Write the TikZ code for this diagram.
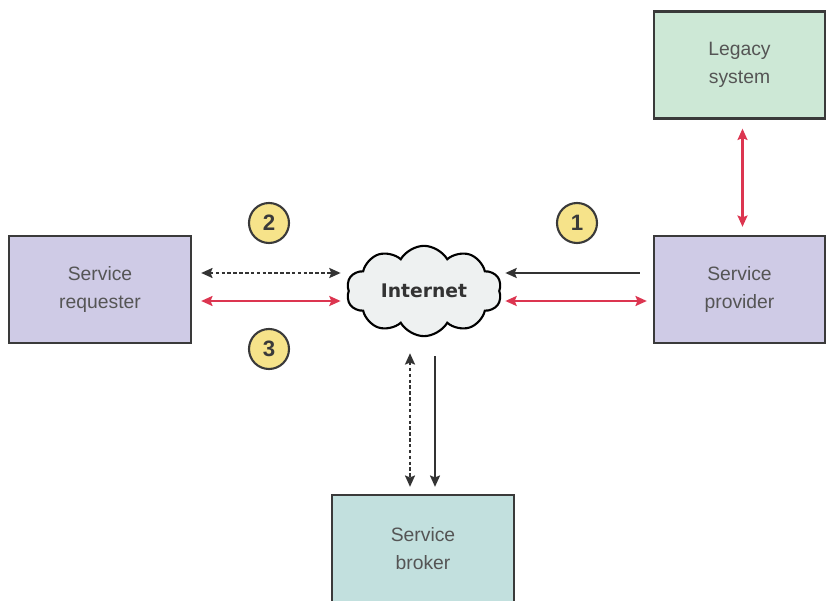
\documentclass[tikz,border=0pt]{standalone}
\usepackage{fontspec}
\setmainfont{Liberation Sans}
\newfontfamily\netfont{DejaVu Sans}
\usetikzlibrary{arrows.meta,positioning,shapes.symbols,calc}

\definecolor{boxline}{HTML}{3A3A3A}
\definecolor{labelgray}{HTML}{555555}
\definecolor{lavender}{HTML}{CFCBE6}
\definecolor{mint}{HTML}{CDE8D6}
\definecolor{teal}{HTML}{C2E0DE}
\definecolor{cloudfill}{HTML}{EEF1F1}
\definecolor{badge}{HTML}{F6E38A}
\definecolor{linkred}{HTML}{DC3550}
\definecolor{linkblack}{HTML}{333333}

\begin{document}
\begin{tikzpicture}[
    x=0.03cm, y=-0.03cm,
    sysbox/.style={rectangle,draw=boxline,line width=2pt,align=center,text=labelgray,
        font=\fontsize{16.5}{24}\selectfont,minimum height=3.21cm},
    badgenode/.style={circle,draw=boxline,fill=badge,line width=1.8pt,minimum size=1.2cm,
        inner sep=0pt,text=boxline,font=\fontsize{19}{19}\selectfont\bfseries},
    arr/.style={-{Stealth[length=3.4mm,width=3mm,inset=0.6mm]},line width=1.8pt},
    darr/.style={{Stealth[length=3.4mm,width=3mm,inset=0.6mm]}-{Stealth[length=3.4mm,width=3mm,inset=0.6mm]},line width=1.8pt},
    dotted line/.style={dash pattern=on 3pt off 2pt}
]
\useasboundingbox (0,0) rectangle (826,601);

% systems
\node[sysbox,fill=lavender,minimum width=5.46cm] (req) at (100,289.5) {Service\\requester};
\node[sysbox,fill=lavender,minimum width=5.13cm] (prov) at (739.5,289.5) {Service\\provider};
\node[sysbox,fill=mint,minimum width=5.13cm] (legacy) at (739.5,65) {Legacy\\system};
\node[sysbox,fill=teal,minimum width=5.46cm] (broker) at (423,548.5) {Service\\broker};

% internet
\node[cloud,cloud puffs=10,cloud puff arc=120,aspect=1.9,draw=black,fill=cloudfill,line width=1.8pt,
    minimum width=4.65cm,minimum height=2.5cm,text=linkblack,
    font=\netfont\fontsize{16}{16}\selectfont\bfseries] (net) at (424,291) {Internet};

% steps
\node[badgenode] (c1) at (577,223) {1};
\node[badgenode] (c2) at (269,223) {2};
\node[badgenode] (c3) at (269,349) {3};

% connectors
\draw[darr,linkblack,dotted line] ($(req.east)+(9,-16.5)$) -- ($(net.west |- req.east)+(-7,-16.5)$);
\draw[darr,linkred] ($(req.east)+(9,11.5)$) -- ($(net.west |- req.east)+(-7,11.5)$);
\draw[arr,linkblack] ($(prov.west)+(-13,-16.5)$) -- ($(net.east |- prov.west)+(5,-16.5)$);
\draw[darr,linkred] ($(net.east |- prov.west)+(5,11.5)$) -- ($(prov.west)+(-6,11.5)$);
\draw[darr,linkred] ($(legacy.south)+(3,9)$) -- ($(prov.north)+(3,-8)$);
\draw[darr,linkblack,dotted line] ($(net.south)+(-14,16)$) -- ($(broker.north)+(-13,-7)$);
\draw[arr,linkblack] ($(net.south)+(11,19)$) -- ($(broker.north)+(12,-7)$);
\end{tikzpicture}
\end{document}
